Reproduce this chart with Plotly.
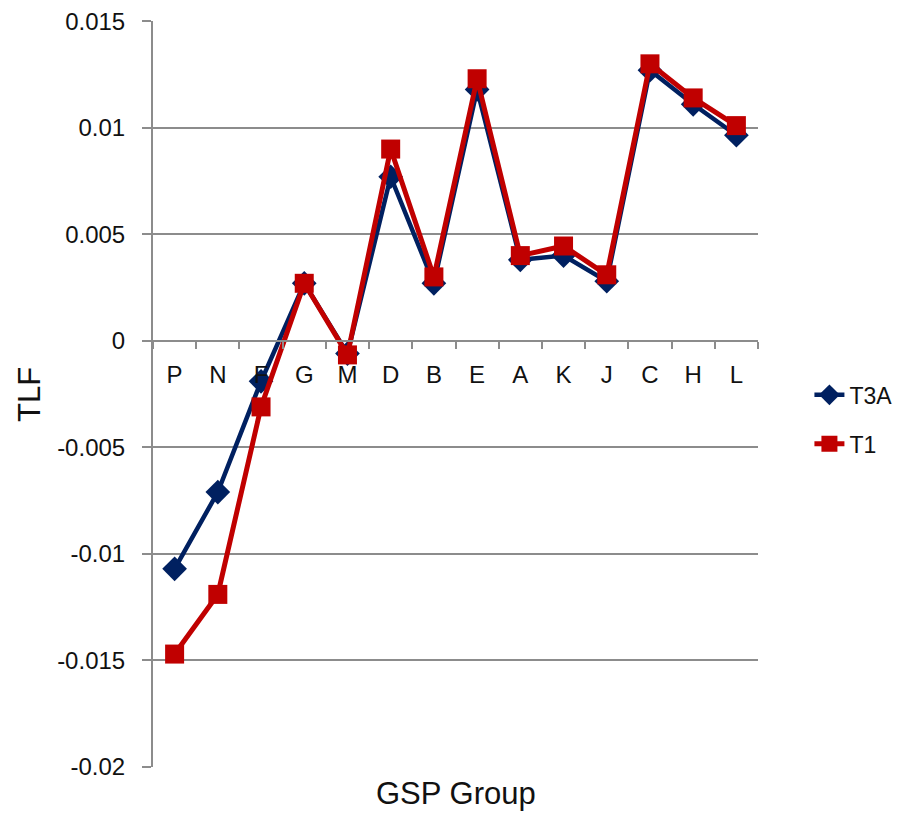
import plotly.graph_objects as go

categories = ["P", "N", "F", "G", "M", "D", "B", "E", "A", "K", "J", "C", "H", "L"]
t3a = [-0.0107, -0.0071, -0.0019, 0.0027, -0.0006, 0.0077, 0.0027, 0.0118, 0.0038, 0.0040, 0.0028, 0.0127, 0.0111, 0.00965]
t1 = [-0.0147, -0.0119, -0.0031, 0.0027, -0.00066, 0.0090, 0.0030, 0.0123, 0.0040, 0.00445, 0.0031, 0.0130, 0.0114, 0.0101]
y_ticks = [-0.02, -0.015, -0.01, -0.005, 0, 0.005, 0.01, 0.015]
y_labels = ["-0.02", "-0.015", "-0.01", "-0.005", "0", "0.005", "0.01", "0.015"]

navy = "#002060"
red = "#C00000"
grey = "#8c8c8c"
font = "Liberation Sans, Arial, sans-serif"

fig = go.Figure()
fig.add_trace(go.Scatter(x=categories, y=t3a, name="T3A", mode="lines+markers",
                         legendgroup="a",
                         line=dict(color=navy, width=4.5),
                         marker=dict(symbol="diamond", size=19, color=navy)))
fig.add_trace(go.Scatter(x=categories, y=t1, name="T1", mode="lines+markers",
                         legendgroup="b",
                         line=dict(color=red, width=5),
                         marker=dict(symbol="square", size=19, color=red)))

ymin, ymax = -0.02, 0.01501
zero_pos = (0 - ymin) / (ymax - ymin)

fig.update_layout(
    width=901, height=816, autosize=False,
    margin=dict(l=145, r=149, t=13, b=57),
    paper_bgcolor="white", plot_bgcolor="white",
    font=dict(family=font, size=24, color="#111111"),
    showlegend=True,
    legend=dict(x=1.085, y=0.466, xanchor="left", yanchor="middle",
                font=dict(size=23), tracegroupgap=16, itemwidth=30,
                borderwidth=0, bgcolor="rgba(0,0,0,0)"),
    xaxis=dict(type="category", range=[-0.5, 13.5], anchor="free", position=zero_pos,
               automargin=False,
               showline=True, linecolor=grey, linewidth=2,
               ticks="outside", tickson="boundaries", ticklen=7, tickcolor=grey, tickwidth=2,
               showgrid=False, tickfont=dict(size=24), ticklabelstandoff=12),
    yaxis=dict(range=[ymin, ymax], tickvals=y_ticks, ticktext=y_labels,
               automargin=False, ticklabeloverflow="allow",
               showline=True, linecolor=grey, linewidth=2,
               ticks="outside", ticklen=9, tickcolor=grey, tickwidth=2,
               showgrid=True, gridcolor=grey, gridwidth=1.5, zeroline=False,
               tickfont=dict(size=24), ticklabelstandoff=12),
    annotations=[
        dict(text="GSP Group", x=0.5, y=-0.036, xref="paper", yref="paper",
             xanchor="center", yanchor="middle", showarrow=False,
             font=dict(size=31)),
        dict(text="TLF", x=-0.205, y=0.5, xref="paper", yref="paper",
             xanchor="center", yanchor="middle", showarrow=False, textangle=-90,
             font=dict(size=31)),
    ],
)

fig.write_html("out.html")
